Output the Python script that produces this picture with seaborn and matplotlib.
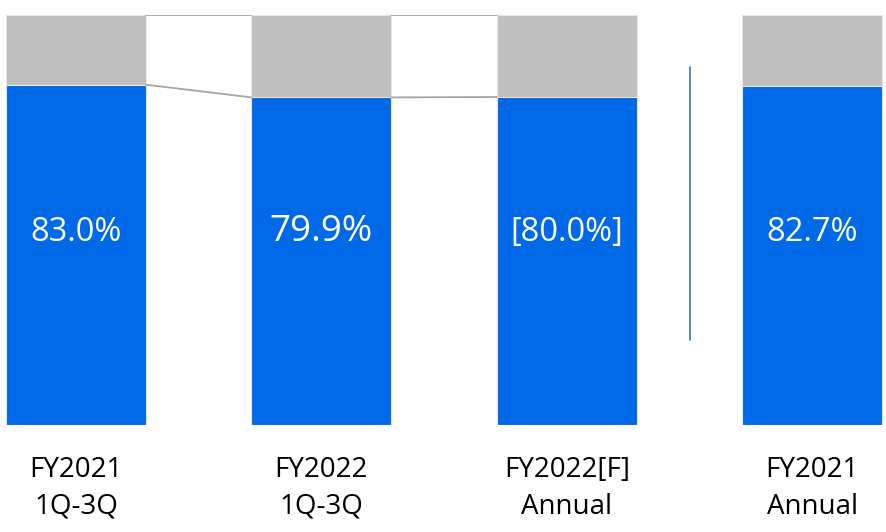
import matplotlib
matplotlib.use("Agg")
import matplotlib.pyplot as plt
import seaborn as sns
import pandas as pd

# chart values
categories = ["FY2021\n1Q-3Q", "FY2022\n1Q-3Q", "FY2022[F]\nAnnual", "FY2021\nAnnual"]
share = [83.0, 79.9, 80.0, 82.7]
share_labels = ["83.0%", "79.9%", "[80.0%]", "82.7%"]
total = [100, 100, 100, 100]

BLUE = "#0069E8"
GRAY = "#BFBFBF"
LINE_GRAY = "#A6A6A6"

sns.set_theme(style="white")
plt.rcParams["font.family"] = ["Open Sans", "DejaVu Sans"]

df = pd.DataFrame({"cat": categories, "share": share, "total": total})

fig = plt.figure(figsize=(8.87, 5.32), dpi=100)
# axes placed so that 0..100 spans the bar height
ax = fig.add_axes([0, 107 / 532, 1, 410 / 532])

width = 0.57
sns.barplot(data=df, x="cat", y="total", color=GRAY, saturation=1, width=width,
            edgecolor="#E6E6E6", linewidth=0.8, ax=ax)
sns.barplot(data=df, x="cat", y="share", color=BLUE, saturation=1, width=width,
            edgecolor="#E6E6E6", linewidth=0.8, ax=ax)

step = 245.4
ax.set_xlim(-76 / step, (887 - 76) / step)
ax.set_ylim(0, 100)
ax.axis("off")

# connector lines between the first three bars
for i in range(2):
    x0, x1 = i + width / 2, i + 1 - width / 2
    ax.plot([x0, x1], [total[i], total[i + 1]], color=LINE_GRAY, lw=1.3)
    ax.plot([x0, x1], [share[i], share[i + 1]], color=LINE_GRAY, lw=1.3)

# separator line before the annual actual bar
ax.plot([2.502, 2.502], [20.7, 87.3], color="#4472C4", lw=1.2)

sizes = [23.5, 26.5, 23.5, 23.5]
for i, (lab, sz) in enumerate(zip(share_labels, sizes)):
    ax.text(i, 47, lab, color="white", ha="center", va="center", fontsize=sz)

trans = ax.get_xaxis_transform()
for i, cat in enumerate(categories):
    top, bottom = cat.split("\n")
    ax.text(i, -0.11, top, transform=trans, ha="center", va="center",
            fontsize=20, color="black")
    ax.text(i, -0.2, bottom, transform=trans, ha="center", va="center",
            fontsize=20, color="black")

fig.savefig("out.png", dpi=100)
plt.close(fig)
